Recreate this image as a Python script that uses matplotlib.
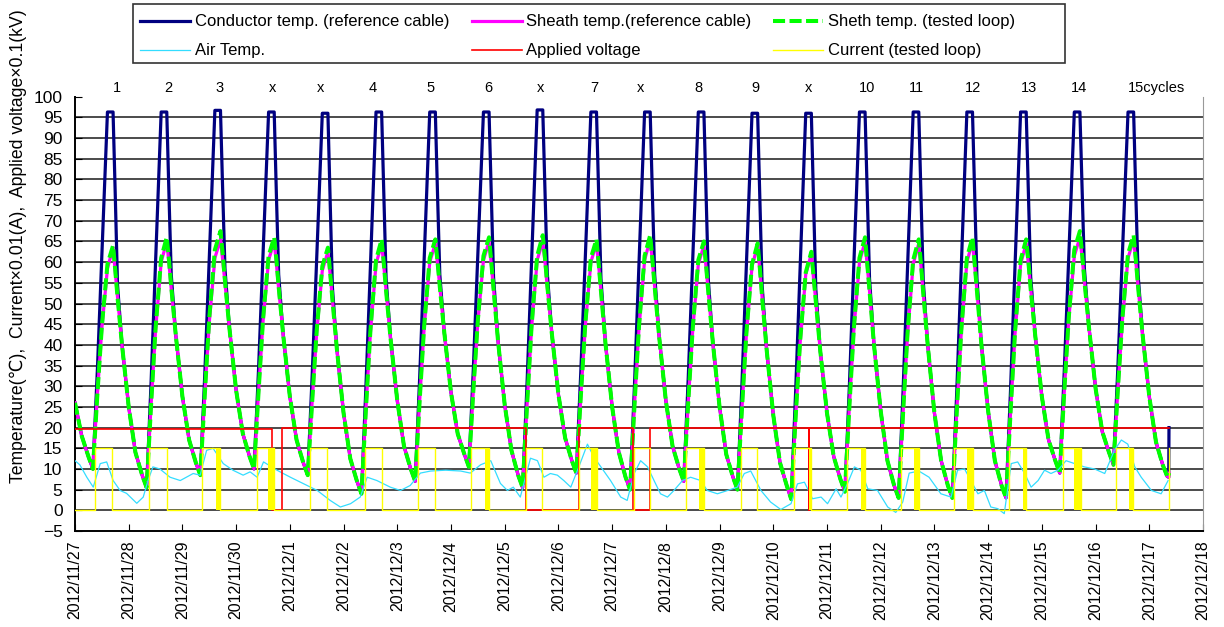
import numpy as np
import matplotlib.pyplot as plt
from matplotlib.patches import Rectangle

plt.rcParams['font.family'] = ['Liberation Sans', 'DejaVu Sans']

# reading times inside each day (hours) and for the last, partial day
hours = [0, 3, 6, 8, 10, 12, 14.5, 17, 18, 19, 21]
last_hours = [0, 3, 6, 8, 8.7, 8.8]

# conductor temp. (reference cable), one row per day
cond_rows = [
    [26, 18, 13, 10, 34, 61.5, 96.3, 96.3, 76, 54.5, 40],
    [25, 14, 8.5, 5.5, 31, 60, 96.3, 96.3, 76, 57, 42.5],
    [27.5, 17, 11.5, 8.5, 33, 61, 96.7, 96.7, 77, 58.5, 44],
    [29, 18.5, 13, 10, 34, 61.5, 96.3, 96.3, 76, 57, 42.5],
    [27.5, 17, 11.5, 8.5, 33, 61, 96.0, 96.0, 75, 54, 39],
    [23.5, 12.5, 7, 4, 30, 59, 96.3, 96.3, 76, 56, 41.5],
    [26.5, 15.5, 10, 7, 32, 60.5, 96.3, 96.3, 76, 57, 43],
    [28.5, 18.5, 13.5, 10.5, 34.5, 62, 96.3, 96.3, 76, 56.5, 41],
    [25.5, 14.5, 8.5, 5.5, 31, 60, 96.8, 96.8, 77, 57.5, 43],
    [28, 17.5, 12, 9, 33.5, 61, 96.3, 96.3, 76, 56, 40.5],
    [25, 14, 8, 5, 30.5, 59.5, 96.3, 96.3, 76, 57, 42],
    [26.5, 15.5, 10, 7, 32, 60.5, 96.3, 96.3, 76, 55.5, 40.5],
    [25, 13.5, 8, 5, 30.5, 59.5, 96.0, 96.0, 75, 54.5, 39],
    [23, 11.5, 6, 2.7, 28.8, 58.7, 96.0, 96.0, 75, 53.5, 38.5],
    [23.5, 13, 7.5, 4.5, 30, 59.4, 96.3, 96.3, 76, 56, 40],
    [24, 12, 6, 3, 29, 58.8, 96.3, 96.3, 76, 55.5, 40],
    [23.5, 12, 6, 3, 29, 58.8, 96.3, 96.3, 76, 56, 40],
    [24, 12, 6, 3, 29, 58.8, 96.3, 96.3, 76, 56.5, 42.5],
    [27.5, 17, 12, 9, 33.5, 61, 96.3, 96.3, 77, 58.5, 44.5],
    [29.5, 19, 14, 11, 35, 62, 96.3, 96.3, 76, 57, 42.5],
]
cond_last = [27.5, 16.5, 11, 8.2, 8, 20]

# sheath temp. (reference cable)
sref_rows = [
    [26, 18, 13, 10, 28, 44, 58.5, 63.5, 57.5, 51.5, 40],
    [25, 14, 8.5, 5.5, 25.5, 43.5, 60, 65, 59.5, 53.5, 42.5],
    [27.5, 17, 11.5, 8.5, 28, 45.5, 61, 65.5, 60.5, 55, 44],
    [29, 18.5, 13, 10, 28.5, 45.5, 60.5, 65, 59.5, 53.5, 42.5],
    [27.5, 17, 11.5, 8.5, 26.5, 43, 58, 62.5, 57, 51, 39],
    [23.5, 12.5, 7, 4, 24.5, 43, 59.5, 64.5, 59, 53, 41.5],
    [26.5, 15.5, 10, 7, 26.5, 44, 60, 64.5, 59.5, 54, 43],
    [28.5, 18.5, 13.5, 10.5, 29, 45.5, 60.5, 65, 59.5, 53.5, 41],
    [25.5, 14.5, 8.5, 5.5, 25.5, 44, 60.5, 65, 60, 54, 43],
    [28, 17.5, 12, 9, 27.5, 44.5, 60, 64.5, 59, 53, 40.5],
    [25, 14, 8, 5, 25.5, 44, 60.5, 65.5, 60, 54, 42],
    [26.5, 15.5, 10, 7, 26, 43.5, 59.5, 64, 58.5, 52.5, 40.5],
    [25, 13.5, 8, 5, 24.5, 42.5, 59, 64, 58, 51.5, 39],
    [23, 11.5, 6, 2.7, 22.5, 40.5, 57, 62, 56, 50.5, 38.5],
    [23.5, 13, 7.5, 4.5, 25, 43.5, 60, 65, 59, 53, 40],
    [24, 12, 6, 3, 23.5, 42.5, 59.5, 64.5, 59, 52.5, 40],
    [23.5, 12, 6, 3, 24, 43, 60, 65, 59, 53, 40],
    [24, 12, 6, 3, 23.5, 42.5, 59.5, 64.5, 59.5, 53.5, 42.5],
    [27.5, 17, 12, 9, 28.5, 46, 61.5, 66, 61, 55.5, 44.5],
    [29.5, 19, 14, 11, 29.5, 46, 61, 65.5, 60, 54, 42.5],
]
sref_last = [27.5, 16.5, 11, 8.2, 8, 9]

# sheath temp. (tested loop)
stest_rows = [
    [26, 18, 13, 10, 28, 44.5, 59.5, 64, 58, 51.5, 40],
    [25, 14, 8.5, 5.5, 25.5, 44, 61, 66, 60.5, 54, 42.5],
    [27.5, 17, 11.5, 8.5, 28, 46.5, 63, 67.5, 62, 55.5, 44],
    [29, 18.5, 13, 10, 28.5, 46, 61.5, 66, 60.5, 54, 42.5],
    [27.5, 17, 11.5, 8.5, 26.5, 43.5, 59, 63.5, 57.5, 51, 39],
    [23.5, 12.5, 7, 4, 24.5, 43.5, 60.5, 65.5, 59.5, 53, 41.5],
    [26.5, 15.5, 10, 7, 26.5, 44.5, 61, 65.5, 60, 54, 43],
    [28.5, 18.5, 13.5, 10.5, 29, 46, 61.5, 66, 60, 53.5, 41],
    [25.5, 14.5, 8.5, 5.5, 25.5, 44.5, 61.5, 66.5, 61, 54.5, 43],
    [28, 17.5, 12, 9, 27.5, 45, 61, 65.5, 59.5, 53, 40.5],
    [25, 14, 8, 5, 25.5, 44.5, 61.5, 66.5, 60.5, 54, 42],
    [26.5, 15.5, 10, 7, 26, 44, 60.5, 65, 59, 52.5, 40.5],
    [25, 13.5, 8, 5, 24.5, 43, 59.5, 64.5, 58.5, 51.5, 39],
    [23, 11.5, 6, 2.7, 22.5, 41, 57.5, 62.5, 56.5, 50.5, 38.5],
    [23.5, 13, 7.5, 4.5, 25, 44, 61, 66, 59.5, 53, 40],
    [24, 12, 6, 3, 23.5, 43, 60.5, 65.5, 59.5, 52.5, 40],
    [23.5, 12, 6, 3, 24, 43.5, 61, 66, 59.5, 53, 40],
    [24, 12, 6, 3, 23.5, 43, 60.5, 65.5, 60, 53.5, 42.5],
    [27.5, 17, 12, 9, 28.5, 46.5, 63, 67.5, 62, 55.5, 44.5],
    [29.5, 19, 14, 11, 29.5, 46.5, 62, 66.5, 60.5, 54, 42.5],
]
stest_last = [27.5, 16.5, 11, 8.2, 8, 9]

# air temperature (days from 2012/11/27 0:00)
air_days = [0.00, 0.09, 0.22, 0.34, 0.47, 0.59, 0.71, 0.84, 0.96, 1.15, 1.27, 1.36,
            1.45, 1.58, 1.77, 1.96, 2.20, 2.33, 2.45, 2.57, 2.76, 2.94, 3.13, 3.26,
            3.39, 3.51, 3.76, 4.01, 4.26, 4.51, 4.75, 4.94, 5.13, 5.31, 5.44, 5.62,
            5.87, 6.06, 6.24, 6.43, 6.62, 6.90, 7.18, 7.36, 7.55, 7.74, 7.92, 8.05,
            8.16, 8.29, 8.48, 8.61, 8.73, 8.85, 8.98, 9.10, 9.23, 9.38, 9.54, 9.66,
            9.79, 9.97, 10.16, 10.28, 10.41, 10.53, 10.66, 10.78, 10.90, 11.03, 11.15,
            11.31, 11.46, 11.65, 11.77, 11.96, 12.15, 12.33, 12.46, 12.58, 12.77, 12.95,
            13.14, 13.33, 13.45, 13.58, 13.73, 13.89, 14.01, 14.17, 14.26, 14.38, 14.51,
            14.63, 14.76, 14.94, 15.13, 15.28, 15.41, 15.53, 15.71, 15.90, 16.12, 16.31,
            16.43, 16.56, 16.68, 16.81, 16.93, 17.05, 17.18, 17.30, 17.43, 17.55, 17.68,
            17.80, 17.93, 18.05, 18.17, 18.30, 18.45, 18.61, 18.79, 18.98, 19.17, 19.35,
            19.48, 19.60, 19.73, 19.85, 20.04, 20.22, 20.35]
air_vals = [12, 11, 8, 5.6, 11.3, 11.7, 7.2, 4.8, 4.1, 1.7, 3.2, 7.2,
            10.5, 10, 8, 7.2, 8.9, 8.5, 14.5, 15, 11.3, 9.7, 8.5, 9.3,
            8, 11.7, 9.7, 8, 6.4, 4.8, 2.4, 0.8, 1.6, 3.2, 8, 7.2,
            5.6, 4.8, 6, 9, 9.5, 9.7, 9.5, 9, 11, 12, 6.5, 4.8,
            5.6, 3.2, 12.6, 12, 8, 8.9, 8.5, 7.2, 5.6, 10.5, 16, 12.9,
            10.5, 7.2, 3.2, 2.4, 8.9, 12, 10.5, 7.2, 4, 3.2, 4.8,
            7.2, 8, 7.2, 4.8, 4, 4.8, 5.6, 8.9, 9.5, 4.8, 2,
            0.2, 1.6, 6.4, 6.8, 2.8, 3.2, 1.6, 5.2, 3.2, 6.4, 10.5,
            9.7, 5.2, 4.8, 0.8, -0.5, 2, 9, 9.5, 8, 4, 3.2,
            9.7, 10, 7.2, 4, 4.8, 0.8, 0.4, -0.8, 11.3, 11.7, 8.9,
            5.6, 7.2, 9.7, 8.9, 9.7, 12, 11.3, 10.5, 10, 8.9, 14.5,
            17, 16, 10.5, 8, 4.8, 4, 7.2]

# applied voltage x 0.1 (kV)
volt_days = [0, 3.67, 3.67, 3.86, 3.86, 8.39, 8.39, 9.38, 9.38, 10.38, 10.38,
             10.70, 10.70, 13.66, 13.66, 13.67, 13.67, 20.37]
volt_vals = [19.7, 19.7, 0, 0, 19.8, 19.8, 0, 0, 19.8, 19.8, 0,
             0, 19.8, 19.8, 0, 0, 19.8, 19.8]

# current x 0.01 (A): switch-on / switch-off times and level
cur_on = [0.37, 1.37, 2.37, 3.39, 4.38, 5.39, 6.38, 7.38, 8.39, 9.38, 10.41,
          11.37, 12.40, 13.39, 14.38, 15.38, 16.37, 17.39, 18.39, 19.38, 20.365]
cur_off = [0.68, 1.71, 2.70, 3.70, 4.69, 5.72, 6.70, 7.70, 8.70, 9.72, 10.71,
           11.71, 12.70, 13.70, 14.70, 15.71, 16.72, 17.71, 18.73, 19.70, 20.37]
cur_level = 15
# periods of rapid on/off switching
flick_start = [2.62, 3.60, 7.64, 9.60, 11.61, 13.66, 14.64, 15.62, 16.61, 17.64, 18.60, 19.63]
flick_end = [2.70, 3.70, 7.70, 9.72, 11.71, 13.70, 14.70, 15.71, 16.72, 17.71, 18.73, 19.70]

date_labels = ['2012/11/27', '2012/11/28', '2012/11/29', '2012/11/30', '2012/12/1',
               '2012/12/2', '2012/12/3', '2012/12/4', '2012/12/5', '2012/12/6',
               '2012/12/7', '2012/12/8', '2012/12/9', '2012/12/10', '2012/12/11',
               '2012/12/12', '2012/12/13', '2012/12/14', '2012/12/15', '2012/12/16',
               '2012/12/17', '2012/12/18']

cycle_labels = ['1', '2', '3', 'x', 'x', '4', '5', '6', 'x', '7', 'x', '8', '9', 'x',
                '10', '11', '12', '13', '14', '15cycles']
cycle_pos = [0.78, 1.73, 2.70, 3.67, 4.57, 5.55, 6.62, 7.70, 8.67, 9.66, 10.53,
             11.61, 12.67, 13.66, 14.74, 15.66, 16.72, 17.76, 18.70, 20.13]

# time axis for the temperature rows
t = []
for d in range(len(cond_rows)):
    for h in hours:
        t.append(d + h / 24)
for h in last_hours:
    t.append(len(cond_rows) + h / 24)
t = np.array(t)
cond = np.concatenate(cond_rows + [cond_last])
sref = np.concatenate(sref_rows + [sref_last])
stest = np.concatenate(stest_rows + [stest_last])

cur_t = [0]
cur_v = [0]
for on, off in zip(cur_on, cur_off):
    cur_t += [on, on, off, off]
    cur_v += [0, cur_level, cur_level, 0]
cur_t = cur_t[:-1]
cur_v = cur_v[:-1]

fig = plt.figure(figsize=(12.24, 6.27), dpi=100)
ax = fig.add_axes([75 / 1224, 1 - 531 / 627, (1203 - 75) / 1224, (531 - 96.7) / 627])

l1, = ax.plot(t, cond, color='#000080', lw=2.3, label='Conductor temp. (reference cable)', zorder=3)
l2, = ax.plot(t, sref, color='#ff00ff', lw=2.3, label='Sheath temp.(reference cable)', zorder=4)
l3, = ax.plot(t, stest, color='#00ff00', lw=2.9, dashes=(3, 1.1),
              label='Sheth temp. (tested loop)', zorder=5)
l4, = ax.plot(air_days, air_vals, color='#33ddff', lw=0.9, label='Air Temp.', zorder=6)
l5, = ax.plot(volt_days, volt_vals, color='#ff0000', lw=1.2, label='Applied voltage', zorder=7)
l6, = ax.plot(cur_t, cur_v, color='#ffff00', lw=1.0, label='Current (tested loop)', zorder=8)
for s, e in zip(flick_start, flick_end):
    ax.fill_between([s, e], 0, cur_level, color='#ffff00', lw=0, zorder=8)

ax.set_xlim(0, 21)
ax.set_ylim(-5, 100)
ax.set_yticks(np.arange(-5, 101, 5))
ax.set_xticks(np.arange(len(date_labels)))
ax.set_xticklabels(date_labels, rotation=90, fontsize=11.5)
ax.tick_params(axis='y', labelsize=12.5, direction='in', length=5, pad=9)
ax.tick_params(axis='x', direction='in', length=5, pad=7)
for y in range(0, 100, 5):
    ax.axhline(y, color='#1a1a1a', lw=1.1, zorder=1)
ax.spines['top'].set_visible(False)
ax.spines['right'].set_color('#999999')
ax.spines['left'].set_linewidth(1.4)
ax.spines['bottom'].set_linewidth(1.4)

for lab, pos in zip(cycle_labels, cycle_pos):
    ax.text(pos, 102.2, lab, ha='center', va='center', fontsize=10.5, clip_on=False)

fig.text(18 / 1224, 1 - 246 / 627,
         'Temperature(\u2103),  Current\u00d70.01(A),  Applied voltage\u00d70.1(kV)',
         rotation=90, ha='center', va='center', fontsize=12.7)

fig.legend(handles=[l1, l4, l2, l5, l3, l6], ncol=3, loc='upper left',
           bbox_to_anchor=(127 / 1224, 1 - 1 / 627), frameon=False, fontsize=12,
           handlelength=3.0, handletextpad=0.3, columnspacing=1.3, labelspacing=0.85,
           borderpad=0.3)
fig.patches.append(Rectangle((133 / 1224, 1 - 63 / 627), (1065 - 133) / 1224, 59 / 627,
                             transform=fig.transFigure, fill=False, ec='#333333', lw=1.2))

fig.savefig('out.png', dpi=100)
